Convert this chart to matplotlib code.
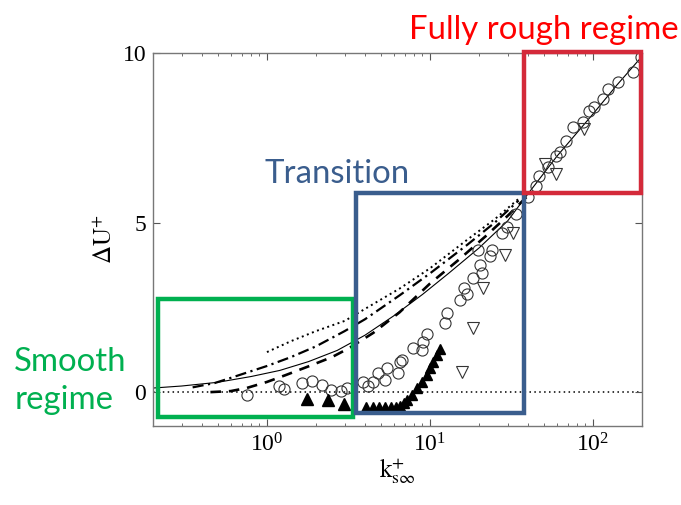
"""
Roughness function dU+ against equivalent sand-grain roughness ks+,
with the smooth / transition / fully rough regimes boxed off.
Values read off the reference picture.
"""

import matplotlib
matplotlib.use("Agg")
import matplotlib.pyplot as plt
from matplotlib.patches import Rectangle
from matplotlib.ticker import LogLocator, NullFormatter

# ---- model curves ----
solid_x = [0.2, 0.3, 0.5, 0.8, 1.2, 1.8, 2.7, 4, 6, 9, 13, 20, 30, 40, 60, 100, 140, 200]
solid_y = [0.12, 0.18, 0.29, 0.46, 0.64, 0.90, 1.23, 1.68, 2.25, 2.88, 3.50, 4.25, 5.05,
           5.85, 6.95, 8.20, 9.05, 9.90]

dashed_x = [0.45, 0.6, 0.75, 1.0, 1.3, 1.8, 2.5, 3.2, 4.5, 6.5, 10, 15, 22, 30, 40]
dashed_y = [0.0, 0.03, 0.12, 0.30, 0.50, 0.76, 1.03, 1.30, 1.75, 2.35, 3.20, 3.90, 4.60,
            5.20, 5.80]

dashdot_x = [0.35, 0.48, 0.6, 0.78, 1.0, 1.4, 2.0, 3.0, 4.0, 6.5, 10, 17, 25, 35]
dashdot_y = [0.14, 0.27, 0.42, 0.60, 0.77, 1.03, 1.35, 1.80, 2.15, 2.85, 3.50, 4.35,
             5.00, 5.65]

dotted_x = [1.0, 1.4, 2.0, 3.0, 4.5, 6.5, 10, 17, 25, 35]
dotted_y = [1.18, 1.50, 1.80, 2.10, 2.60, 3.05, 3.65, 4.50, 5.10, 5.70]

# ---- measurements ----
circ_x = [0.75, 1.19, 1.27, 1.64, 1.9, 2.19, 2.48, 2.86, 3.12,
          3.86, 4.14, 4.45, 4.78, 5.28, 5.42, 6.35, 6.53, 6.7, 7.86, 8.9, 9.05, 9.58,
          12.4, 12.7, 15.3, 16.2, 16.8, 18.4, 20.4, 21.0, 19.8, 24.1, 23.5, 27.8, 29.9,
          33.5, 39.7,
          44.5, 46.5, 52.8, 59, 63, 68, 76, 87, 94, 101, 115, 124, 143, 177, 198]
circ_y = [-0.09, 0.18, 0.09, 0.27, 0.33, 0.21, 0.06, 0.03, 0.12,
          0.30, 0.18, 0.30, 0.56, 0.36, 0.71, 0.56, 0.89, 0.95, 1.30, 1.24, 1.48, 1.72,
          2.04, 2.34, 2.72, 3.08, 2.90, 3.37, 3.76, 3.50, 4.20, 4.20, 4.00, 4.70, 4.88,
          5.24, 5.74,
          6.07, 6.36, 6.63, 6.95, 7.07, 7.40, 7.81, 7.96, 8.28, 8.40, 8.64, 8.93, 9.14,
          9.44, 9.88]

tri_dn_x = [15.8, 18.4, 21.2, 29.0, 32.5, 51, 59, 88]
tri_dn_y = [0.59, 1.89, 3.08, 4.05, 4.70, 6.72, 6.42, 7.75]

tri_big_x = [1.77, 2.38, 2.99]
tri_big_y = [-0.21, -0.24, -0.36]

tri_sm_x = [4.08, 4.45, 4.84, 5.28, 5.74, 6.17, 6.53, 6.92, 7.2, 7.74, 8.32, 8.93,
            9.58, 10.0, 10.4, 11.0, 11.5]
tri_sm_y = [-0.44, -0.44, -0.44, -0.44, -0.44, -0.43, -0.41, -0.33, -0.24, -0.09, 0.12,
            0.30, 0.50, 0.71, 0.89, 1.09, 1.27]

# ---- regime boxes (data coords: x0, x1, y0, y1) ----
BOX_SMOOTH = (0.215, 3.35, -0.74, 2.75)
BOX_TRANS  = (3.54, 38.0, -0.62, 5.86)
BOX_ROUGH  = (38.0, 198.0, 5.86, 10.03)

GREEN = "#00b050"
BLUE  = "#3a5d8d"
RED   = "#d42a3a"


plt.rcParams.update({
    "font.family": "serif",
    "font.serif": ["Liberation Serif", "DejaVu Serif"],
    "mathtext.fontset": "stix",
    "font.size": 15,
})

fig = plt.figure(figsize=(6.81, 5.05), dpi=100)
ax = fig.add_axes([0.2247, 0.1564, 0.718, 0.7386])

ax.axhline(0, color="black", lw=1.1, ls=(0, (1, 2.2)), zorder=1)

ax.plot(solid_x, solid_y, color="black", lw=0.8, zorder=2)
ax.plot(dashed_x, dashed_y, color="black", lw=1.9, ls=(0, (4, 3)), zorder=2)
ax.plot(dashdot_x, dashdot_y, color="black", lw=1.6, ls=(0, (5, 2, 1, 2)), zorder=2)
ax.plot(dotted_x, dotted_y, color="black", lw=1.4, ls=(0, (1, 1.8)), zorder=2)

ax.plot(circ_x, circ_y, ls="none", marker="o", ms=8, mfc="none", mec="#333333",
        mew=0.8, zorder=3)
ax.plot(tri_dn_x, tri_dn_y, ls="none", marker="v", ms=8.5, mfc="none", mec="#333333",
        mew=0.8, zorder=3)
ax.plot(tri_big_x, tri_big_y, ls="none", marker="^", ms=8.5, color="black", zorder=3)
ax.plot(tri_sm_x, tri_sm_y, ls="none", marker="^", ms=6.5, color="black", zorder=3)

ax.set_xscale("log")
ax.set_xlim(0.2, 200)
ax.set_ylim(-1, 10)
ax.set_yticks([0, 5, 10])
ax.xaxis.set_major_locator(LogLocator(base=10, numticks=10))
ax.xaxis.set_minor_locator(LogLocator(base=10, subs=range(2, 10), numticks=20))
ax.xaxis.set_minor_formatter(NullFormatter())
ax.tick_params(which="both", direction="in", top=True, right=True, color="#555555")
ax.tick_params(which="major", length=5, labelsize=17, pad=5)
ax.tick_params(which="minor", length=2.5)
for s in ax.spines.values():
    s.set_color("#777777")
    s.set_linewidth(1.0)

ax.set_ylabel(r"$\Delta\mathrm{U}^{+}$", fontsize=18, labelpad=4)
ax.set_xlabel(r"$\mathrm{k}^{+}_{\mathrm{s}\infty}$", fontsize=18, labelpad=0)

for (x0, x1, y0, y1), col in [(BOX_SMOOTH, GREEN), (BOX_TRANS, BLUE), (BOX_ROUGH, RED)]:
    ax.add_patch(Rectangle((x0, y0), x1 - x0, y1 - y0, fill=False, ec=col, lw=3.2,
                           clip_on=False, zorder=5))

lab = dict(family=["Lato", "DejaVu Sans"], fontsize=23.7)
fig.text(0.799, 0.922, "Fully rough regime", color="#ff0000", ha="center", va="baseline", **lab)
fig.text(0.495, 0.638, "Transition", color=BLUE, ha="center", va="baseline", **lab)
fig.text(0.021, 0.190, "Smooth\nregime", color=GREEN, ha="left", va="baseline",
         multialignment="left", linespacing=1.35, **lab)

fig.savefig("out.png", dpi=100)
